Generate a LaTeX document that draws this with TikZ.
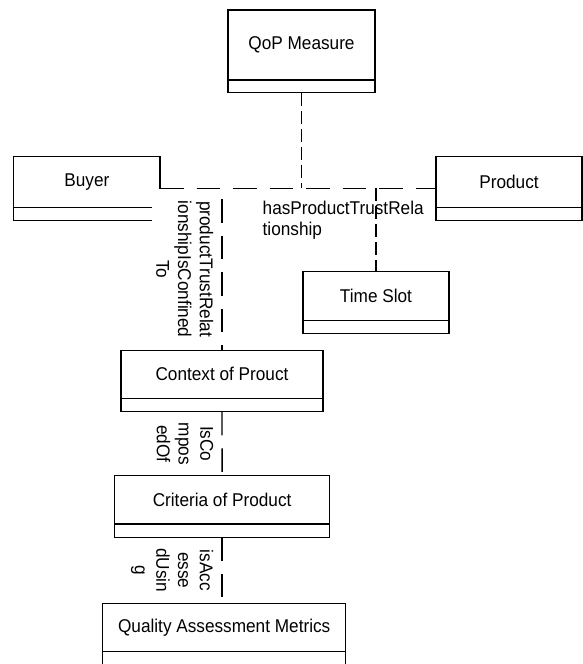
\documentclass[tikz,border=0pt]{standalone}
\usepackage{fontspec}
\setmainfont[FakeStretch=0.93]{Liberation Sans}
\usetikzlibrary{positioning}

\begin{document}
\begin{tikzpicture}[x=1pt, y=-1pt,
    every node/.style={font=\fontsize{18.5}{21.7}\selectfont},
    cls/.style={draw, line width=1.1pt, inner sep=0pt, outer sep=0pt},
    longdash/.style={line width=1.4pt, dash pattern=on 23.5pt off 13pt},
    shortdash/.style={line width=1.4pt, dash pattern=on 13pt off 5pt},
    rolelabel/.style={rotate=-90, anchor=north, align=center, fill=white, inner sep=4pt, outer sep=4.8pt}]
    \useasboundingbox (0,0) rectangle (583,664);

    % Define the class boxes
    \node[cls, minimum width=147, minimum height=70] (qop) at (301.5, 45) {QoP Measure};
    \node[cls, minimum width=147, minimum height=12.7, below=0pt of qop] (qop-ops) {};

    \node[cls, minimum width=146.2, minimum height=51] (buyer) at (86.9, 182.2) {Buyer};
    \node[cls, minimum width=146.2, minimum height=12.6, below=0pt of buyer] (buyer-ops) {};

    \node[cls, minimum width=146, minimum height=51] (product) at (509, 182.2) {Product};
    \node[cls, minimum width=146, minimum height=12.6, below=0pt of product] (product-ops) {};

    \node[cls, minimum width=146, minimum height=48.3] (timeslot) at (376, 295.9) {Time Slot};
    \node[cls, minimum width=146, minimum height=13.3, below=0pt of timeslot] (timeslot-ops) {};

    \node[cls, minimum width=202, minimum height=48.3] (context) at (222, 374.2) {Context of Prouct};
    \node[cls, minimum width=202, minimum height=13.4, below=0pt of context] (context-ops) {};

    \node[cls, minimum width=215.5, minimum height=48.2] (criteria) at (222.1, 499.9) {Criteria of Product};
    \node[cls, minimum width=215.5, minimum height=13.4, below=0pt of criteria] (criteria-ops) {};

    \node[cls, minimum width=243, minimum height=48.4] (quality) at (224.2, 627.5) {Quality Assessment Metrics};
    \node[cls, minimum width=243, minimum height=13.3, below=0pt of quality] (quality-ops) {};

    % Association with QoP Measure, Product and Time Slot
    \coordinate (hub) at (301.7, 188.3);
    \draw[longdash] (buyer.east |- hub) -- (product.west |- hub);
    \draw[shortdash] (qop-ops.south) -- (qop-ops.south |- hub);
    \draw[shortdash] (hub -| timeslot.north) -- (timeslot.north);
    \node[anchor=north west, align=left, inner sep=0pt] (trustlabel) at (262.5, 200.5) {hasProductTrustRela\\tionship};

    % Buyer to Context of Prouct
    \draw[longdash] (buyer.east |- hub) -| (context.north)
        node[pos=0.75, rolelabel, minimum width=160] {productTrustRelat\\ionshipIsConfined\\To};

    % Down the chain
    \draw[longdash] (context-ops.south) -- (criteria.north)
        node[midway, rolelabel] {IsCo\\mpos\\edOf};
    \draw[longdash] (criteria-ops.south) -- (criteria-ops.south |- quality.north)
        node[midway, rolelabel] {isAcc\\esse\\dUsin\\g};
\end{tikzpicture}
\end{document}
